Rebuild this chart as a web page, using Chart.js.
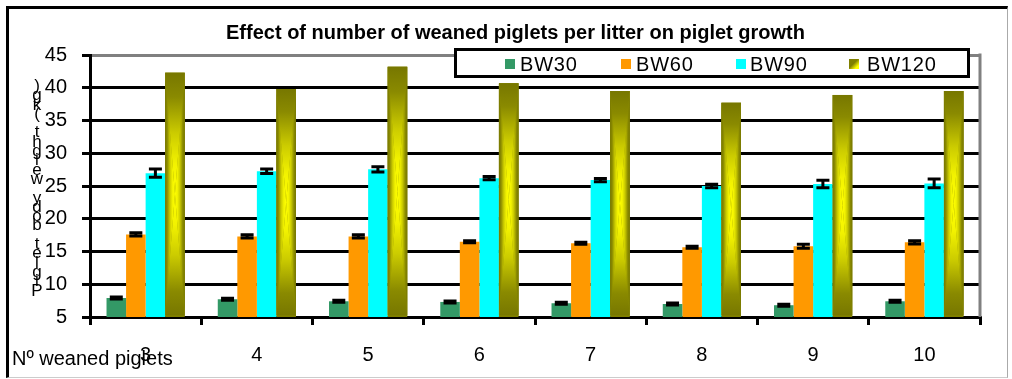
<!DOCTYPE html>
<html>
<head>
<meta charset="utf-8">
<script src="https://cdn.jsdelivr.net/npm/chart.js@4/dist/chart.umd.min.js"></script>
<style>
  html, body { margin: 0; padding: 0; background: #fff; }
  #wrap { position: relative; width: 1012px; height: 379px; font-family: 'Liberation Sans', Arial, sans-serif; color: #000; }
  #wrap canvas { position: absolute; left: 0; top: 0; }
  .abs { position: absolute; white-space: nowrap; pointer-events: none; }
  #frame { left: 6px; top: 6px; width: 1002px; height: 372px; box-sizing: border-box;
           border-top: 3px solid #000; border-left: 3px solid #000; border-right: 1px solid #aaa; border-bottom: 1px solid #ccc; }
  #title { left: 0; width: 1031px; top: 22px; text-align: center; font-size: 20px; line-height: 20px; font-weight: bold; }
  #legend { left: 454px; top: 48px; width: 516px; height: 30px; box-sizing: border-box; border: 3px solid #000; background: #fff; }
  .sw { width: 10px; height: 10px; top: 59px; }
  .lt { top: 54px; font-size: 20px; line-height: 20px; letter-spacing: 0.8px; }
  #ytitle { left: 27px; top: 81px; width: 20px; font-size: 17px; text-align: center; }
  #ytitle div { height: 9.3px; line-height: 9.3px; }
  #xtitle { left: 12px; top: 348px; font-size: 20px; line-height: 20px; }
</style>
</head>
<body>
<div id="wrap">
  <canvas id="c" width="1012" height="379"></canvas>
  <div id="frame" class="abs"></div>
  <div id="title" class="abs">Effect of number of weaned piglets per litter on piglet growth</div>
  <div id="legend" class="abs"></div>
  <div id="ytitle" class="abs"></div>
  <div id="xtitle" class="abs">Nº weaned piglets</div>
</div>
<script>
const categories = ['3', '4', '5', '6', '7', '8', '9', '10'];
const seriesNames = ['BW30', 'BW60', 'BW90', 'BW120'];
const bw30 = [7.9, 7.7, 7.4, 7.3, 7.1, 7.0, 6.8, 7.4];
const bw60 = [17.6, 17.3, 17.3, 16.5, 16.25, 15.65, 15.8, 16.4];
const bw90 = [26.95, 27.25, 27.55, 26.2, 25.9, 25.0, 25.3, 25.4];
const bw120 = [42.3, 39.8, 43.2, 40.7, 39.5, 37.7, 38.9, 39.5];
const bw30Err = [0.15, 0.15, 0.15, 0.15, 0.15, 0.15, 0.15, 0.15];
const bw60Err = [0.25, 0.25, 0.25, 0.15, 0.15, 0.15, 0.3, 0.25];
const bw90Err = [0.63, 0.36, 0.4, 0.25, 0.25, 0.25, 0.58, 0.66];
const yTicks = [5, 10, 15, 20, 25, 30, 35, 40, 45];
const yTitle = 'Piglet body weight (kg)';

const colors = ['#339966', '#ff9900', '#00ffff', '#808000'];
const errors = [bw30Err, bw60Err, bw90Err, null];

// legend (html, sits inside the plot like the original)
const wrap = document.getElementById('wrap');
const swatchX = [505, 621, 736, 849];
const textX = [520, 636, 750, 867];
seriesNames.forEach((name, i) => {
    const sw = document.createElement('div');
    sw.className = 'abs sw';
    sw.style.left = swatchX[i] + 'px';
    sw.style.background = i === 3 ? 'linear-gradient(135deg, #808000 45%, #ffff00 80%)' : colors[i];
    wrap.appendChild(sw);
    const t = document.createElement('div');
    t.className = 'abs lt';
    t.style.left = textX[i] + 'px';
    t.textContent = name;
    wrap.appendChild(t);
});

// stacked y title, reads bottom to top
const yt = document.getElementById('ytitle');
yTitle.split('').reverse().forEach(ch => {
    const d = document.createElement('div');
    d.textContent = ch;
    yt.appendChild(d);
});

// olive bars: rectangular "from centre" gradient, olive edges to yellow centre
function fillFromCenter(ctx, l, t, r, b) {
    const cx = (l + r) / 2, cy = (t + b) / 2;
    ctx.fillStyle = '#8a8a00';
    ctx.fillRect(l, t, r - l, b - t);
    const parts = [
        [[l, t], [l, b], l, cy],
        [[r, t], [r, b], r, cy],
        [[l, t], [r, t], cx, t],
        [[l, b], [r, b], cx, b]
    ];
    parts.forEach(p => {
        const g = ctx.createLinearGradient(p[2], p[3], cx, cy);
        g.addColorStop(0, '#777700');
        g.addColorStop(0.2, '#8a8a00');
        g.addColorStop(0.5, '#cccc00');
        g.addColorStop(0.75, '#f2f200');
        g.addColorStop(1, '#ffff00');
        ctx.beginPath();
        ctx.moveTo(p[0][0], p[0][1]);
        ctx.lineTo(p[1][0], p[1][1]);
        ctx.lineTo(cx, cy);
        ctx.closePath();
        ctx.fillStyle = g;
        ctx.fill();
    });
}

const extras = {
    id: 'extras',
    afterDatasetsDraw(chart) {
        const ctx = chart.ctx;
        const y = chart.scales.y;
        const area = chart.chartArea;
        ctx.save();
        // gradient on BW120
        chart.getDatasetMeta(3).data.forEach(el => {
            const p = el.getProps(['x', 'y', 'base', 'width'], true);
            fillFromCenter(ctx, p.x - p.width / 2, p.y, p.x + p.width / 2, Math.min(p.base, area.bottom - 1.5));
        });
        // error bars
        ctx.strokeStyle = '#000';
        ctx.lineWidth = 3;
        [0, 1, 2].forEach(di => {
            const vals = chart.data.datasets[di].data;
            chart.getDatasetMeta(di).data.forEach((el, i) => {
                const e = errors[di][i];
                const x = el.getProps(['x'], true).x;
                const top = y.getPixelForValue(vals[i] + e);
                const bot = y.getPixelForValue(vals[i] - e);
                ctx.beginPath();
                ctx.moveTo(x, top); ctx.lineTo(x, bot);
                ctx.moveTo(x - 6.5, top); ctx.lineTo(x + 6.5, top);
                ctx.moveTo(x - 6.5, bot); ctx.lineTo(x + 6.5, bot);
                ctx.stroke();
            });
        });
        // grey right edge of plot
        ctx.strokeStyle = '#808080';
        ctx.beginPath();
        ctx.moveTo(area.right, area.top - 1.5);
        ctx.lineTo(area.right, area.bottom);
        ctx.stroke();
        ctx.restore();
    }
};

new Chart(document.getElementById('c'), {
    type: 'bar',
    data: {
        labels: categories,
        datasets: [
            { label: seriesNames[0], data: bw30, backgroundColor: colors[0] },
            { label: seriesNames[1], data: bw60, backgroundColor: colors[1] },
            { label: seriesNames[2], data: bw90, backgroundColor: colors[2] },
            { label: seriesNames[3], data: bw120, backgroundColor: colors[3] }
        ]
    },
    options: {
        responsive: false,
        animation: false,
        devicePixelRatio: 1,
        layout: { padding: { left: 0, right: 32, top: 55, bottom: 0 } },
        datasets: { bar: { categoryPercentage: 0.703, barPercentage: 1 } },
        plugins: {
            legend: { display: false },
            title: { display: false },
            tooltip: { enabled: false }
        },
        scales: {
            x: {
                grid: {
                    display: true, drawOnChartArea: false, drawTicks: true, offset: true,
                    tickLength: 8, lineWidth: 3, tickWidth: 3, color: '#000', tickColor: '#000'
                },
                border: { display: true, color: '#000', width: 3 },
                ticks: { color: '#000', padding: 18, font: { family: "'Liberation Sans', Arial", size: 20 } },
                afterFit: s => { s.height = 62; }
            },
            y: {
                min: 5,
                max: 45,
                afterBuildTicks: s => { s.ticks = yTicks.map(v => ({ value: v })); },
                grid: {
                    drawTicks: true, tickLength: 8, lineWidth: 3, tickWidth: 3,
                    color: c => (c.tick && c.tick.value === 45 ? '#808080' : '#000'),
                    tickColor: '#000'
                },
                border: { display: true, color: '#000', width: 3 },
                ticks: { color: '#000', padding: 15, font: { family: "'Liberation Sans', Arial", size: 20 } },
                afterFit: s => { s.width = 90; }
            }
        }
    },
    plugins: [extras]
});
</script>
</body>
</html>
